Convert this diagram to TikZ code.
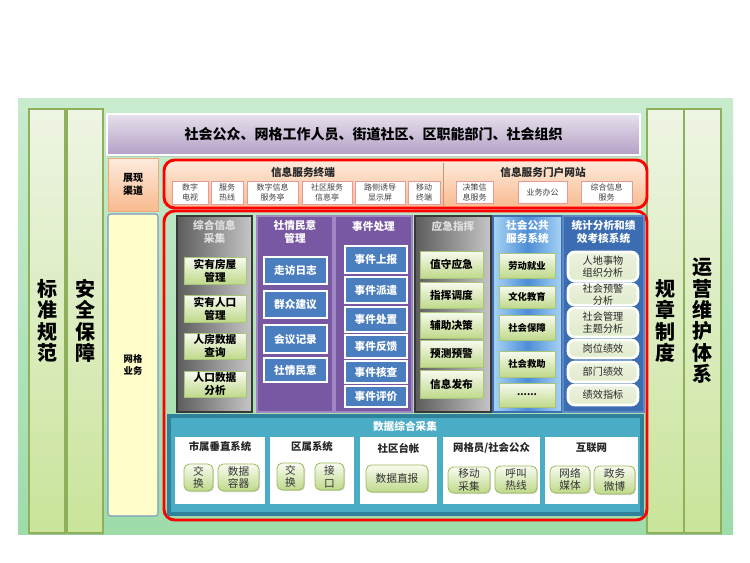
\documentclass[tikz,border=0pt]{standalone}
\usepackage{fontspec}
\setmainfont{Noto Sans CJK SC}
\usetikzlibrary{shadows}
\definecolor{panTop}{HTML}{C8EBCE}
\definecolor{panBot}{HTML}{9EDCAA}
\definecolor{sideTop}{HTML}{EEF5E4}
\definecolor{sideBot}{HTML}{C9E49A}
\definecolor{sideLine}{HTML}{8FB05A}
\definecolor{banTop}{HTML}{E6E0EC}
\definecolor{banBot}{HTML}{B4A0C6}
\definecolor{peachTop}{HTML}{FDEBDD}
\definecolor{peachBot}{HTML}{F9BA8E}
\definecolor{peachLine}{HTML}{F0A878}
\definecolor{yelFill}{HTML}{FFFDC9}
\definecolor{yelLine}{HTML}{7B98C0}
\definecolor{redLine}{HTML}{FF0000}
\definecolor{pinkLine}{HTML}{E49A9A}
\definecolor{greyTxt}{HTML}{404040}
\definecolor{gcolL}{HTML}{5C5C5C}
\definecolor{gcolR}{HTML}{C6C6C6}
\definecolor{gcolLine}{HTML}{383838}
\definecolor{purFill}{HTML}{7858A2}
\definecolor{purLine}{HTML}{A086C2}
\definecolor{btnBlue}{HTML}{4A7EBE}
\definecolor{gbTop}{HTML}{F8FBF1}
\definecolor{gbBot}{HTML}{BFD98A}
\definecolor{gbLine}{HTML}{A9C57A}
\definecolor{lbEdge}{HTML}{A8D4F5}
\definecolor{lbMid}{HTML}{4D8ED6}
\definecolor{lbLine}{HTML}{3C6FB2}
\definecolor{dbFill}{HTML}{3C6DB2}
\definecolor{dbLine}{HTML}{5E89C6}
\definecolor{statFill}{HTML}{E4EDD2}
\definecolor{tealFill}{HTML}{4BACC6}
\definecolor{tealLine}{HTML}{2F8199}
\definecolor{dbtLine}{HTML}{9BBB59}
\newcommand\fsz[2]{\fontsize{#1}{#2}\selectfont}
\newcommand\Bx[7]{%
  \pgfmathsetmacro\bxcx{(#3+#5)/2}\pgfmathsetmacro\bxcy{(#4+#6)/2}%
  \pgfmathsetmacro\bxw{(#5-#3)*0.75}\pgfmathsetmacro\bxh{(#6-#4)*0.75}%
  \node[#1, minimum width=\bxw pt, minimum height=\bxh pt] (#2) at (\bxcx,\bxcy) {#7};}
\begin{document}
\begin{tikzpicture}[x=0.75pt,y=-0.75pt,
  every node/.style={inner sep=0pt, outer sep=0pt, align=center},
  panelbg/.style={top color=panTop, bottom color=panBot, draw=none},
  sidecol/.style={top color=sideTop, bottom color=sideBot, draw=sideLine, line width=0.8pt,
     drop shadow={shadow xshift=1pt, shadow yshift=-1.5pt, opacity=0.25}, font=\bfseries\fsz{15}{16}},
  banner/.style={top color=banTop, bottom color=banBot, draw=white, line width=2pt,
     drop shadow={shadow xshift=1pt, shadow yshift=-1.5pt, opacity=0.25}, font=\bfseries\fsz{10.5}{12}},
  peachbox/.style={top color=peachTop, bottom color=peachBot, draw=peachLine, line width=0.6pt, font=\bfseries\fsz{7.5}{9.5}},
  yelbox/.style={fill=yelFill, draw=yelLine, line width=0.8pt, rounded corners=2pt, font=\bfseries\fsz{7}{9.5}},
  redbox/.style={draw=redLine, line width=2.2pt, rounded corners=8pt},
  smallbox/.style={fill=white, draw=pinkLine, line width=0.6pt, text=greyTxt, font=\fsz{6}{7.5}},
  secttl/.style={font=\bfseries\fsz{8}{9.5}, text=black!85},
  greycol/.style={left color=gcolL, right color=gcolR, draw=gcolLine, line width=0.8pt},
  purcol/.style={fill=purFill, draw=purLine, line width=1.5pt},
  lbcol/.style={left color=lbEdge, right color=lbEdge, middle color=lbMid, draw=lbLine, line width=1pt},
  dbcol/.style={fill=dbFill, draw=dbLine, line width=1.5pt},
  colttl/.style={font=\bfseries\fsz{8}{9.75}, text=white},
  greyttl/.style={font=\bfseries\fsz{8}{9.75}, text=black!12},
  greenbtn/.style={top color=gbTop, bottom color=gbBot, draw=gbLine, line width=0.4pt,
     drop shadow={shadow xshift=0.8pt, shadow yshift=-0.8pt, opacity=0.35}, font=\bfseries\fsz{8}{9.75}},
  svcbtn/.style={greenbtn, font=\bfseries\fsz{7}{9}},
  bluebtn/.style={fill=btnBlue, draw=white, line width=1.6pt, text=white,
     drop shadow={shadow xshift=0.8pt, shadow yshift=-0.8pt, opacity=0.35}, font=\bfseries\fsz{8}{9.75}},
  statbtn/.style={top color=white!30!statFill, bottom color=statFill!90!gbBot, draw=white, line width=2pt, rounded corners=5pt,
     text=black!85, font=\fsz{7.6}{9}},
  tealbox/.style={fill=tealFill, draw=tealLine, line width=2.5pt},
  whitepan/.style={fill=white, draw=none},
  datbtn/.style={top color=gbTop, bottom color=gbBot, draw=dbtLine, line width=0.6pt, rounded corners=4pt,
     drop shadow={shadow xshift=0.8pt, shadow yshift=-0.8pt, opacity=0.3}, text=black!80, font=\fsz{8}{9.5}},
  datttl/.style={font=\bfseries\fsz{7.8}{9.5}, text=black!85}
]
\useasboundingbox (0,0) rectangle (750,562);
% background panel
\Bx{panelbg}{bg}{18}{98}{733}{534}{}
% side columns
\Bx{sidecol}{c1}{29}{109}{65}{533}{标\\准\\规\\范}
\Bx{sidecol}{c2}{67}{109}{103}{533}{安\\全\\保\\障}
\Bx{sidecol}{c3}{647}{109}{684}{533}{规\\章\\制\\度}
\Bx{sidecol}{c4}{684}{109}{721}{533}{运\\营\\维\\护\\体\\系}
% banner
\Bx{banner}{top}{107}{114}{640}{155}{社会公众、网格工作人员、街道社区、区职能部门、社会组织}
% left labels
\Bx{peachbox}{zx}{108}{158}{158}{211}{展现\\渠道}
\Bx{yelbox}{wg}{108}{214}{158}{516}{网格\\业务}
% top red box
\Bx{redbox, top color=peachTop, bottom color=peachBot}{rt}{164}{160}{647}{208}{}
\coordinate (sepT) at (443,163);
\coordinate (sepB) at (443,206);
\draw[draw=peachLine!60!gray, line width=0.6pt] (sepT) -- (sepB);
\node[secttl] (t1) at (303,172) {信息服务终端};
\node[secttl] (t2) at (543,172) {信息服务门户网站};
\Bx{smallbox}{s1}{172}{181}{208}{204}{数字\\电视}
\Bx{smallbox}{s2}{211}{181}{243}{204}{服务\\热线}
\Bx{smallbox}{s3}{247}{181}{298}{204}{数字信息\\服务亭}
\Bx{smallbox}{s4}{302}{181}{352}{204}{社区服务\\信息亭}
\Bx{smallbox}{s5}{355}{181}{405}{204}{路侧诱导\\显示屏}
\Bx{smallbox}{s6}{408}{181}{440}{204}{移动\\终端}
\Bx{smallbox}{s7}{456}{181}{493}{203}{决策信\\息服务}
\Bx{smallbox}{s8}{518}{181}{567}{203}{业务办公}
\Bx{smallbox}{s9}{581}{181}{632}{203}{综合信息\\服务}
% main red box
\Bx{redbox}{rm}{164}{211}{647}{520}{}
% column 1
\Bx{greycol}{k1}{177}{216}{252}{412}{}
\node[greyttl] (k1t) at (214.5,232) {综合信息\\采集};
\Bx{greenbtn}{k1a}{184}{257}{246}{284}{实有房屋\\管理}
\Bx{greenbtn}{k1b}{184}{295}{246}{322}{实有人口\\管理}
\Bx{greenbtn}{k1c}{184}{333}{246}{359}{人房数据\\查询}
\Bx{greenbtn}{k1d}{184}{371}{246}{397}{人口数据\\分析}
% column 2
\Bx{purcol}{k2}{257}{216}{333}{412}{}
\node[colttl] (k2t) at (295,232) {社情民意\\管理};
\Bx{bluebtn}{k2a}{264}{257}{327}{284}{走访日志}
\Bx{bluebtn}{k2b}{264}{291}{327}{318}{群众建议}
\Bx{bluebtn}{k2c}{264}{325}{327}{353}{会议记录}
\Bx{bluebtn}{k2d}{264}{358}{327}{382}{社情民意}
% column 3
\Bx{purcol}{k3}{335}{216}{412}{412}{}
\node[colttl] (k3t) at (373.5,226) {事件处理};
\Bx{bluebtn}{k3a}{345}{246}{407}{273}{事件上报}
\Bx{bluebtn}{k3b}{345}{277}{407}{303}{事件派遣}
\Bx{bluebtn}{k3c}{345}{307}{407}{332}{事件处置}
\Bx{bluebtn}{k3d}{345}{335}{407}{358}{事件反馈}
\Bx{bluebtn}{k3e}{345}{361}{407}{383}{事件核查}
\Bx{bluebtn}{k3f}{345}{386}{407}{407}{事件评价}
% column 4
\Bx{greycol}{k4}{415}{216}{491}{412}{}
\node[greyttl] (k4t) at (453,226) {应急指挥};
\Bx{greenbtn}{k4a}{420}{251}{483}{278}{值守应急}
\Bx{greenbtn}{k4b}{420}{282}{483}{308}{指挥调度}
\Bx{greenbtn}{k4c}{420}{312}{483}{338}{辅助决策}
\Bx{greenbtn}{k4d}{420}{340}{483}{367}{预测预警}
\Bx{greenbtn}{k4e}{420}{370}{483}{398}{信息发布}
% column 5
\Bx{lbcol}{k5}{493}{216}{562}{412}{}
\node[colttl] (k5t) at (527.5,232) {社会公共\\服务系统};
\Bx{svcbtn}{k5a}{499}{253}{555}{278}{劳动就业}
\Bx{svcbtn}{k5b}{499}{286}{555}{308}{文化教育}
\Bx{svcbtn}{k5c}{499}{315}{555}{340}{社会保障}
\Bx{svcbtn}{k5d}{499}{351}{555}{377}{社会救助}
\Bx{svcbtn}{k5e}{499}{383}{555}{407}{......}
% column 6
\Bx{dbcol}{k6}{563}{216}{644}{412}{}
\node[colttl] (k6t) at (603.5,232) {统计分析和绩\\效考核系统};
\Bx{statbtn}{k6a}{568}{252}{638}{281}{人地事物\\组织分析}
\Bx{statbtn}{k6b}{568}{284}{638}{305}{社会预警\\分析}
\Bx{statbtn}{k6c}{568}{308}{638}{337}{社会管理\\主题分析}
\Bx{statbtn}{k6d}{568}{340}{638}{358}{岗位绩效}
\Bx{statbtn}{k6e}{568}{362}{638}{382}{部门绩效}
\Bx{statbtn}{k6f}{568}{385}{638}{405}{绩效指标}
% data area
\Bx{tealbox}{da}{169}{416}{642}{514}{}
\node[colttl] (dat) at (405,426) {数据综合采集};
\Bx{whitepan}{p1}{175}{437}{265}{504}{}
\Bx{whitepan}{p2}{270}{437}{354}{504}{}
\Bx{whitepan}{p3}{360}{437}{437}{504}{}
\Bx{whitepan}{p4}{443}{437}{540}{504}{}
\Bx{whitepan}{p5}{545}{437}{638}{504}{}
\node[datttl] (p1t) at (220,447) {市属垂直系统};
\node[datttl] (p2t) at (312,447) {区属系统};
\node[datttl] (p3t) at (398.5,448) {社区台帐};
\node[datttl] (p4t) at (491.5,448) {网格员/社会公众};
\node[datttl] (p5t) at (591.5,448) {互联网};
\Bx{datbtn}{d1}{184}{464}{213}{491}{交\\换}
\Bx{datbtn}{d2}{218}{464}{259}{491}{数据\\容器}
\Bx{datbtn}{d3}{277}{463}{304}{490}{交\\换}
\Bx{datbtn}{d4}{315}{463}{344}{490}{接\\口}
\Bx{datbtn}{d5}{366}{465}{428}{492}{数据直报}
\Bx{datbtn}{d6}{448}{467}{490}{493}{移动\\采集}
\Bx{datbtn}{d7}{495}{466}{537}{493}{呼叫\\热线}
\Bx{datbtn}{d8}{550}{466}{590}{493}{网络\\媒体}
\Bx{datbtn}{d9}{594}{466}{635}{494}{政务\\微博}
\end{tikzpicture}
\end{document}
